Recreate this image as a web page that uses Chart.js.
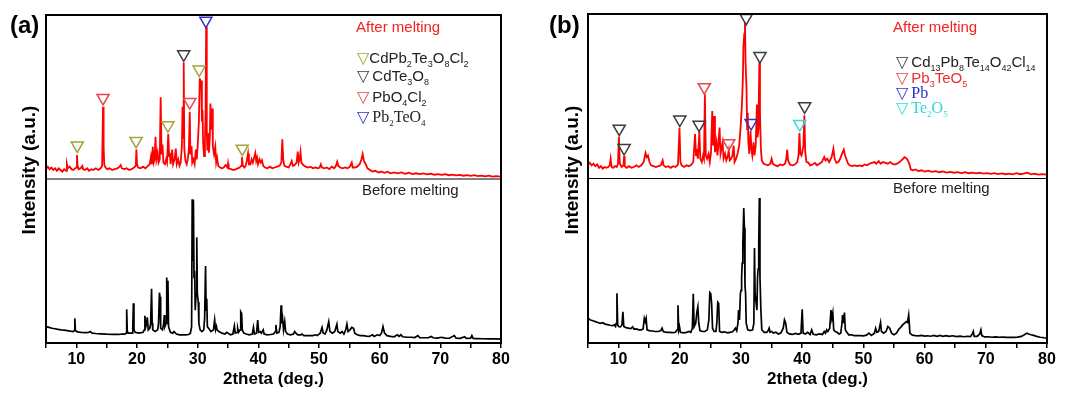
<!DOCTYPE html>
<html>
<head>
<meta charset="utf-8">
<script src="https://cdn.jsdelivr.net/npm/chart.js@4.4.1/dist/chart.umd.min.js"></script>
<style>
body { margin: 0; background: #fff; }
#wrap { position: relative; width: 1071px; height: 394px; overflow: hidden; font-family: "Liberation Sans", Arial, sans-serif; }
canvas { position: absolute; top: 0; }
.t { position: absolute; white-space: nowrap; font-size: 15px; line-height: 16px; color: #222; }
.t sub { font-size: 9px; vertical-align: -4px; line-height: 0; }
.tri { font-family: "DejaVu Sans"; font-size: 16px; margin-right: 3px; }
.serif { font-family: "Liberation Serif", serif; font-size: 16px; }
.panel { position: absolute; font-weight: bold; font-size: 24px; line-height: 26px; }
.ylab { position: absolute; width: 200px; height: 22px; line-height: 22px; text-align: center; font-weight: bold; font-size: 19px; transform: rotate(-90deg); white-space: nowrap; }
</style>
</head>
<body>
<div id="wrap">
  <canvas id="chartA" width="535" height="394" style="left:0"></canvas>
  <canvas id="chartB" width="536" height="394" style="left:535px"></canvas>

  <div class="panel" style="left:10px;top:12px">(a)</div>
  <div class="panel" style="left:549px;top:12px">(b)</div>
  <div class="ylab" style="left:-71px;top:159px">Intensity (a.u.)</div>
  <div class="ylab" style="left:472px;top:159px">Intensity (a.u.)</div>

  <div class="t" style="left:356px;top:19px;color:#f52020">After melting</div>
  <div class="t" style="left:357px;top:50px"><span class="tri" style="color:#a3a33a;margin-right:0">▽</span>CdPb<sub>2</sub>Te<sub>3</sub>O<sub>8</sub>Cl<sub>2</sub></div>
  <div class="t" style="left:357px;top:68px"><span class="tri" style="color:#3c3c3c">▽</span>CdTe<sub>3</sub>O<sub>8</sub></div>
  <div class="t" style="left:357px;top:89px"><span class="tri" style="color:#e8474c">▽</span>PbO<sub>4</sub>Cl<sub>2</sub></div>
  <div class="t" style="left:357px;top:109px"><span class="tri" style="color:#3333cc">▽</span><span class="serif">Pb<sub>2</sub>TeO<sub>4</sub></span></div>
  <div class="t" style="left:362px;top:182px">Before melting</div>

  <div class="t" style="left:893px;top:19px;color:#f52020">After melting</div>
  <div class="t" style="left:896px;top:54px"><span class="tri" style="color:#3c3c3c">▽</span>Cd<sub>13</sub>Pb<sub>8</sub>Te<sub>14</sub>O<sub>42</sub>Cl<sub>14</sub></div>
  <div class="t" style="left:896px;top:70px;color:#e83030"><span class="tri" style="color:#e8474c">▽</span>Pb<sub>3</sub>TeO<sub>5</sub></div>
  <div class="t" style="left:896px;top:85px;color:#2a2acc"><span class="tri" style="color:#3333cc">▽</span><span class="serif">Pb</span></div>
  <div class="t" style="left:896px;top:100px;color:#2fd6e0"><span class="tri" style="color:#33dddd">▽</span><span class="serif">Te<sub>2</sub>O<sub>5</sub></span></div>
  <div class="t" style="left:893px;top:180px">Before melting</div>
</div>

<script>
// ---- data: [2theta, intensity] ; intensity in a.u. (0-100 per pattern) ----
var afterA = [
 [5.0,6],[5.3,7.5],[5.6,6],[5.9,7],[6.2,5.5],[6.5,6.5],[6.8,5],[7.1,6.5],[7.4,5.5],[7.7,4.5],[8.0,6],[8.3,5],[8.45,9],[8.6,6.5],[8.9,7.5],
 [9.2,6],[9.5,5.5],[9.8,6.5],[10.0,7],[10.1,14.6],[10.2,8],[10.4,6],[10.7,6.5],[11.0,8],[11.1,6],[11.4,5.5],[11.8,6.5],[12.1,5],[12.5,6],
 [12.8,5.5],[13.2,6.5],[13.6,5.5],[14.0,6.5],[14.25,8],[14.4,44],[14.5,20],[14.6,9],[14.8,7],[15.1,6],[15.5,6.5],[15.9,5.5],[16.3,6],
 [16.7,6.5],[17.0,7],[17.3,8.5],[17.5,6.5],[17.9,6],[18.3,6.5],[18.7,5.5],[19.1,6],[19.5,7],[19.8,8],[19.9,18],[20.0,9],[20.2,7],[20.6,6.5],
 [21.0,7.5],[21.4,6.5],[21.8,8],[22.1,9],[22.3,13.5],[22.45,9],[22.6,19.6],[22.75,10],[22.9,12],[23.05,25.8],[23.2,12],[23.4,16],[23.55,10],
 [23.75,12],[23.9,49.8],[24.05,15],[24.2,21],[24.35,10],[24.6,9],[24.8,12],[24.95,10],[25.15,27.4],[25.3,14],[25.4,16],[25.55,9],[25.8,18],
 [25.95,9],[26.2,12],[26.4,18.5],[26.55,9],[26.8,12],[27.0,8],[27.2,10],[27.4,20],[27.5,44],[27.6,25],[27.7,71],[27.8,18],[28.0,11],[28.2,9],
 [28.4,13],[28.55,18],[28.7,41],[28.8,15],[29.0,20],[29.1,10],[29.3,12],[29.5,9],[29.7,18],[29.85,12],[30.0,20],[30.2,35],[30.35,61.4],
 [30.5,58],[30.6,60],[30.7,35],[30.8,42],[30.9,22],[31.05,14],[31.2,24],[31.3,40],[31.4,92.9],[31.5,30],[31.6,18],[31.7,28],[31.85,16],
 [32.0,25],[32.1,46],[32.25,30],[32.4,43],[32.5,20],[32.7,15],[32.9,19.6],[33.05,10],[33.2,13],[33.4,8],[33.7,7],[34.0,6.5],[34.3,7],
 [34.6,8.5],[34.9,7],[35.0,9.5],[35.1,6.5],[35.5,6],[35.9,5.5],[36.3,6],[36.6,6.5],[36.9,7],[37.15,8],[37.3,13.3],[37.45,8],[37.7,7],[37.9,8],
 [38.1,11],[38.3,15.4],[38.45,9],[38.7,9],[38.9,12],[39.1,10],[39.3,13],[39.5,15.8],[39.65,11],[39.8,13],[39.95,9],[40.2,12],[40.4,10],
 [40.6,11.5],[40.8,8],[41.1,7],[41.5,6.5],[41.9,7.5],[42.3,6.5],[42.7,7],[43.1,7.5],[43.5,8],[43.8,10],[43.95,24.2],[44.1,12],[44.3,8],
 [44.6,7.5],[45.0,7],[45.3,9],[45.5,11],[45.7,8],[46.0,8.5],[46.3,10],[46.5,16.7],[46.65,10],[46.8,12],[46.95,16.5],[47.1,10],[47.4,8.5],
 [47.8,7.5],[48.2,7],[48.6,7.5],[49.0,6.5],[49.4,7],[49.8,6.5],[50.1,7],[50.3,9],[50.5,7],[50.9,6.5],[51.3,7],[51.7,6],[52.1,7.5],[52.5,6.5],
 [52.8,8],[53.0,10.5],[53.2,8],[53.5,7],[53.9,6.5],[54.3,7],[54.7,6.5],[55.1,7.5],[55.4,10],[55.55,7],[55.9,7],[56.3,7.5],[56.7,9],[57.0,12],
 [57.2,15.2],[57.4,11],[57.7,9],[58.0,6.5],[58.4,5.5],[58.8,4.5],[59.3,5],[59.8,4],[60.3,4.5],[60.8,3.8],[61.3,4.5],[61.8,3.5],[62.4,4],
 [63.0,3.5],[63.6,4],[64.2,3.2],[64.8,3.8],[65.4,3],[66.0,3.5],[66.6,3],[67.2,3.4],[67.8,2.8],[68.4,3.2],[69.0,2.6],[69.6,3],[70.2,2.5],
 [70.8,2.9],[71.4,2.3],[72.0,2.7],[72.6,2.2],[73.2,2.5],[73.8,2],[74.4,2.4],[75.0,1.9],[75.6,2.3],[76.2,1.8],[76.8,2.1],[77.4,1.6],[78.0,2],
 [78.6,1.5],[79.2,1.8],[80.0,1.4]
];

var beforeA = [
 [5.0,10],[5.5,9.5],[6.0,9],[6.5,8.7],[7.0,8.3],[7.5,8],[8.0,7.8],[8.5,7.5],[9.0,7.2],[9.5,7],[9.65,7.5],[9.75,15],[9.85,7.5],[10.2,6.8],
 [10.8,6.5],[11.5,6.3],[12.0,6.4],[12.3,7],[12.6,6],[13.2,5.8],[14.0,5.6],[15.0,5.4],[16.0,5.3],[17.0,5.2],[17.5,5.5],[18.0,5.4],[18.2,6],
 [18.3,20.5],[18.4,7],[18.6,6],[19.2,6],[19.3,8],[19.4,24.2],[19.5,8],[19.7,6.5],[20.3,6],[21.0,6.5],[21.2,8],[21.3,16.6],[21.45,10],
 [21.6,12],[21.7,15.7],[21.85,8],[22.1,9],[22.25,12],[22.4,33],[22.5,12],[22.6,8],[23.0,7],[23.4,8],[23.55,12],[23.7,30.7],[23.8,28],
 [23.9,9],[24.2,8],[24.4,12],[24.5,17],[24.6,10],[24.8,12],[24.9,40],[25.0,25],[25.1,38],[25.2,10],[25.5,6.5],[25.9,6],[26.1,7],[26.5,5.5],
 [27.0,5],[27.5,5],[28.0,5],[28.5,5.2],[28.8,6],[29.0,10],[29.1,87.6],[29.2,50],[29.3,87],[29.4,40],[29.5,44],[29.6,20],[29.75,30],
 [29.85,64.4],[29.95,30],[30.1,25],[30.2,12],[30.4,8],[30.7,7],[31.0,8],[31.15,15],[31.3,47],[31.4,20],[31.5,27],[31.6,10],[31.8,9],
 [32.2,7],[32.6,8],[32.8,14],[32.95,8],[33.1,10],[33.2,8],[33.5,7],[34.0,6],[34.5,5.5],[34.8,6.5],[35.0,6],[35.4,5],[35.8,5.5],[36.05,10.4],
 [36.2,6],[36.5,6.5],[36.6,9],[36.75,6.5],[37.0,8],[37.1,19],[37.25,18],[37.35,8],[37.6,6],[38.0,5.5],[38.5,5],[39.0,5.5],[39.2,9.5],
 [39.35,5.5],[39.7,6],[39.9,14],[40.05,6.5],[40.3,7],[40.5,6],[40.8,8],[40.95,5.5],[41.5,5],[42.0,5.2],[42.5,5.5],[42.8,7],[42.9,11],
 [43.05,6],[43.4,6.5],[43.6,10],[43.75,23],[43.85,12],[44.0,15],[44.15,8],[44.35,13],[44.5,7],[44.8,5.5],[45.3,5],[45.8,5.5],[46.0,7],
 [46.2,6],[46.5,5],[47.0,5],[47.2,5.5],[47.5,4.5],[48.0,4.5],[48.5,4.5],[49.0,4.5],[49.4,5],[49.7,4.5],[50.2,6],[50.5,9.5],[50.7,6],
 [51.0,5.5],[51.3,8],[51.6,13],[51.8,7],[52.2,6],[52.6,7],[52.95,11.5],[53.1,7],[53.5,6],[53.8,7],[54.1,5.5],[54.4,8],[54.6,11.5],[54.8,7],
 [55.1,8],[55.4,9.5],[55.7,9],[55.9,6],[56.3,5],[56.8,4.5],[57.3,4.5],[57.8,4.2],[58.3,4],[58.8,5],[59.1,4],[59.6,5],[60.0,4.5],[60.3,6],
 [60.55,10],[60.8,6],[61.2,4.5],[61.8,4],[62.4,3.8],[62.9,5],[63.2,4],[63.5,5],[63.8,3.8],[64.5,3.5],[65.2,3.5],[65.8,3.3],[66.3,4.5],
 [66.6,3.3],[67.3,3.2],[68.0,3.2],[68.5,4],[68.8,3.2],[69.5,3],[70.2,3.5],[70.8,3],[71.5,2.9],[72.3,4.5],[72.6,2.9],[73.3,2.8],[74.0,3.8],
 [74.3,2.8],[75.0,3],[75.2,4.5],[75.4,2.8],[76.0,2.7],[77.0,2.6],[78.0,2.5],[79.0,2.5],[80.0,2.4]
];

var afterB = [
 [5.0,8.5],[5.3,9.5],[5.6,8],[5.9,9],[6.2,7.5],[6.5,8.5],[6.8,6.5],[7.1,7.5],[7.4,6],[7.7,7],[8.0,6.5],[8.3,7],[8.55,8],[8.7,12],[8.85,7],
 [9.1,6.5],[9.4,7.5],[9.7,7],[9.9,9],[10.05,25.4],[10.2,9],[10.5,7],[10.8,8],[10.9,13.6],[11.0,7.5],[11.3,6.5],[11.7,7.5],[12.1,6.5],
 [12.5,7],[12.9,8],[13.3,7],[13.7,8],[14.1,10],[14.4,15.5],[14.6,13],[14.8,14],[15.05,10],[15.3,8],[15.7,7.5],[16.1,7],[16.5,7.5],[16.9,8],
 [17.2,11],[17.35,8],[17.7,7],[18.1,7.5],[18.5,6.5],[18.9,7.5],[19.3,7],[19.7,8.5],[19.95,30.9],[20.1,10],[20.3,8],[20.7,7],[21.1,8],
 [21.5,7.5],[21.9,8.5],[22.2,10],[22.5,27],[22.65,14],[22.8,18],[22.95,12],[23.2,28.2],[23.35,12],[23.6,10],[23.8,14],[23.95,12],[24.1,51.2],
 [24.25,14],[24.45,12],[24.7,15],[24.9,10],[25.1,16],[25.3,41],[25.45,20],[25.6,38],[25.75,16],[26.0,22],[26.15,14],[26.3,20],[26.5,31],
 [26.65,15],[26.8,18],[27.0,22],[27.15,12],[27.4,15],[27.6,11],[27.8,13],[28.0,17],[28.15,11],[28.4,12],[28.6,14],[28.8,20],[28.95,10],
 [29.2,12],[29.5,16],[29.7,20],[29.95,32],[30.15,45],[30.3,60],[30.4,81],[30.55,88],[30.65,95],[30.75,70],[30.9,55],[31.0,30],[31.1,40],
 [31.2,22],[31.35,15],[31.55,28.8],[31.7,18],[31.85,14],[32.05,22],[32.2,14],[32.4,20],[32.6,45],[32.7,25],[32.85,30],[33.0,70.6],
 [33.1,40],[33.25,18],[33.4,11],[33.7,9],[34.0,8.5],[34.4,8],[34.8,9],[35.0,12],[35.2,9],[35.6,8],[36.0,7.5],[36.4,8.5],[36.8,8],[37.2,9],
 [37.4,12],[37.55,17.5],[37.7,11],[38.0,8.5],[38.4,8],[38.8,8.5],[39.2,10],[39.4,14],[39.55,27.7],[39.7,15],[39.9,14],[40.2,20],[40.35,38.4],
 [40.5,16],[40.7,10],[41.0,9.7],[41.3,8],[41.7,8.5],[42.1,9.5],[42.4,8],[42.8,9],[43.2,10],[43.6,13],[43.8,11],[44.1,12],[44.4,10],
 [44.8,13],[45.1,18.1],[45.3,12],[45.6,9.5],[45.9,10],[46.2,12],[46.5,15],[46.8,17.5],[47.0,14],[47.2,12],[47.5,9],[47.8,8],[48.2,7.5],
 [48.6,8],[49.0,7.5],[49.4,8],[49.8,7.5],[50.2,8.5],[50.6,8],[51.0,9],[51.4,9.5],[51.8,10],[52.1,9],[52.5,10.5],[52.8,9],[53.2,10],
 [53.6,9.5],[54.0,9],[54.4,10],[54.7,9],[55.1,8.5],[55.5,9],[55.9,10],[56.2,11],[56.5,12],[56.7,13],[56.95,12.5],[57.2,11.5],[57.5,9],
 [57.75,5.5],[58.1,5],[58.5,5.5],[59.0,4.5],[59.5,5],[60.0,4.2],[60.6,4.8],[61.2,4],[61.8,4.5],[62.4,3.8],[63.0,4.3],[63.6,3.6],[64.2,4],
 [64.8,3.5],[65.4,3.9],[66.0,3.3],[66.6,3.8],[67.2,3.2],[67.8,3.6],[68.4,3.1],[69.0,3.5],[69.6,3],[70.2,3.3],[70.8,2.8],[71.4,3.2],[72.0,2.7],
 [72.6,3.1],[73.2,2.6],[73.8,3],[74.4,2.5],[75.0,3.2],[75.6,2.6],[76.2,2.9],[76.8,3.5],[77.4,2.5],[78.0,2.9],[78.6,2.4],[79.2,2.7],[80.0,2.3]
];

var beforeB = [
 [5.0,15],[5.4,14],[5.8,13.5],[6.2,13],[6.6,12.5],[7.0,12],[7.4,12.3],[7.8,11.5],[8.2,11.2],[8.6,10.8],[9.0,10.5],[9.3,11],[9.5,10],
 [9.6,12],[9.73,30.3],[9.85,11],[10.0,10],[10.3,9.8],[10.55,11],[10.7,19],[10.85,10],[11.2,9.3],[11.6,9],[12.0,8.8],[12.3,9.8],[12.5,8.5],
 [12.9,8.6],[13.3,8],[13.7,8],[14.0,8.5],[14.2,15],[14.35,13],[14.5,15],[14.65,8],[15.0,7.5],[15.5,7.3],[16.0,7],[16.5,7],[16.9,7.5],
 [17.1,9],[17.3,7],[17.8,6.5],[18.3,6.5],[18.8,6.3],[19.3,6.5],[19.55,8],[19.7,23],[19.82,8],[19.95,10],[20.1,6.5],[20.6,6.2],[21.1,6.5],
 [21.5,7],[21.8,6.5],[22.05,9],[22.2,30],[22.35,10],[22.6,12],[22.8,19],[22.95,22],[23.1,12],[23.3,7.5],[23.7,7],[24.1,7],[24.5,8],
 [24.75,14],[24.9,30.7],[25.05,30],[25.2,24],[25.35,9],[25.6,7],[25.9,7],[26.05,12],[26.2,24.8],[26.35,24],[26.5,7],[26.9,6.5],[27.3,6.8],
 [27.8,6.2],[28.2,6.5],[28.6,6.8],[28.9,8],[29.1,9],[29.3,7.5],[29.5,12],[29.6,20],[29.75,14],[29.9,30],[30.0,32],[30.1,40],[30.2,48.6],
 [30.3,60],[30.45,82],[30.55,70],[30.65,35],[30.75,30],[30.85,12],[31.1,8],[31.5,7.5],[31.9,8],[32.1,12],[32.2,57.7],[32.3,30],[32.45,30],
 [32.6,20],[32.7,40],[32.8,45],[32.9,60],[33.0,88.2],[33.1,40],[33.25,20],[33.4,8],[33.8,6.5],[34.2,6.5],[34.45,7.5],[34.6,9],[34.75,6.5],
 [35.0,7],[35.3,6],[35.7,6.5],[36.1,5.5],[36.5,6],[36.9,9],[37.1,14],[37.3,12],[37.5,6.5],[37.9,5.5],[38.4,5.2],[38.9,5.8],[39.4,5.3],
 [39.8,6],[40.0,20.5],[40.15,6],[40.5,5.5],[40.9,6.5],[41.3,5.2],[41.55,8],[41.8,5.3],[42.3,5],[42.8,5.5],[43.3,5.2],[43.6,7],[43.8,6],
 [44.0,8],[44.2,7],[44.5,9],[44.7,20],[44.85,15],[45.0,18.3],[45.15,8],[45.4,7],[45.7,6.5],[46.0,5.5],[46.3,6],[46.5,12],[46.6,17],
 [46.75,12],[46.9,18.5],[47.05,8],[47.3,6.5],[47.6,5],[48.0,5],[48.5,4.5],[49.0,4.5],[49.5,4.5],[50.0,4.3],[50.5,4.8],[50.9,6],[51.3,4.6],
 [51.8,6],[52.0,9],[52.2,6.5],[52.5,7],[52.8,12.4],[52.95,7],[53.3,6],[53.7,7],[54.0,10],[54.3,9],[54.6,6],[55.0,5],[55.4,6],[55.8,8.5],
 [56.1,9.5],[56.4,11],[56.7,12],[57.0,13],[57.2,12.5],[57.4,17],[57.6,6],[58.0,4.8],[58.5,4.5],[59.0,4.3],[59.5,4.6],[60.0,4.2],[60.5,4.4],
 [61.0,4.1],[61.5,4.6],[62.0,4],[62.5,4.6],[63.0,4.1],[63.5,4.5],[64.0,4],[64.6,4.4],[65.2,3.9],[65.8,4.2],[66.4,3.8],[67.0,4.1],[67.5,3.9],
 [67.8,5.5],[67.95,7],[68.1,4],[68.6,4],[69.0,5.5],[69.2,8],[69.35,4.5],[69.8,3.7],[70.4,3.8],[71.0,3.5],[71.6,3.7],[72.2,3.5],[72.8,3.6],
 [73.4,3.4],[74.0,3.5],[74.6,3.4],[75.2,3.6],[75.8,4],[76.3,5],[76.7,6],[77.0,5.5],[77.4,5],[77.8,4.6],[78.3,4],[78.9,3.5],[79.5,3.2],[80.0,3]
];

// phase markers (2theta, height on the "after melting" pattern)
var markA_CdPb2Te3O8Cl2 = [[10.15,20.5],[19.85,23.2],[25.1,32.7],[30.25,66.7],[37.35,18.5]];
var markA_CdTe3O8 = [[27.7,76]];
var markA_PbO4Cl2 = [[14.4,49.4],[28.7,46.9]];
var markA_Pb2TeO4 = [[31.35,96.5]];

var markB_Cd13Pb8Te14O42Cl14 = [[10.1,30.3],[10.9,18.5],[20.0,35.8],[23.15,32.7],[30.85,97.6],[33.1,74.4],[40.4,43.9]];
var markB_Pb3TeO5 = [[24.0,55.5],[28.0,21.5]];
var markB_Pb = [[31.65,33.7]];
var markB_Te2O5 = [[39.6,33.1]];

var xTicks = [10, 20, 30, 40, 50, 60, 70, 80];

function pts(arr) {
    return arr.map(function (p) { return { x: p[0], y: p[1] }; });
}

function markSet(arr, color) {
    return {
        data: pts(arr),
        yAxisID: 'y2',
        showLine: false,
        pointStyle: 'triangle',
        pointRotation: 180,
        pointRadius: 7,
        pointBorderWidth: 1.5,
        pointBorderColor: color,
        pointBackgroundColor: 'rgba(0,0,0,0)',
        order: 0
    };
}

// frame around plot + line between the two patterns
var framePlugin = {
    id: 'frame',
    afterDatasetsDraw: function (chart) {
        var a = chart.chartArea, ctx = chart.ctx;
        var mid = chart.scales.y2.getPixelForValue(0);
        ctx.save();
        ctx.strokeStyle = '#000';
        ctx.lineWidth = 1;
        ctx.beginPath();
        ctx.moveTo(a.left, mid);
        ctx.lineTo(a.right, mid);
        ctx.stroke();
        ctx.lineWidth = 2;
        ctx.strokeRect(a.left, a.top, a.right - a.left, a.bottom - a.top);
        ctx.restore();
    }
};

function makePanel(id, after, before, marks, pad) {
    var sets = [
        { data: pts(after), yAxisID: 'y2', borderColor: '#ff0000', borderWidth: 1.8, pointRadius: 0, tension: 0, order: 1 },
        { data: pts(before), yAxisID: 'y', borderColor: '#000000', borderWidth: 1.7, pointRadius: 0, tension: 0, order: 1 }
    ];
    marks.forEach(function (m) { sets.push(markSet(m[0], m[1])); });

    return new Chart(document.getElementById(id).getContext('2d'), {
        type: 'line',
        data: { datasets: sets },
        options: {
            responsive: false,
            animation: false,
            layout: { padding: pad },
            plugins: { legend: { display: false }, tooltip: { enabled: false } },
            scales: {
                x: {
                    type: 'linear', min: 5, max: 80,
                    afterFit: function (s) { s.height = 51; },
                    grid: { drawOnChartArea: false, color: '#000', lineWidth: 1.5, tickLength: 5 },
                    border: { display: true, color: '#000', width: 2 },
                    ticks: {
                        stepSize: 5, autoSkip: false, maxRotation: 0, padding: 2, color: '#000',
                        font: { family: '"Liberation Sans", Arial, sans-serif', size: 16, weight: 'bold' },
                        callback: function (v) { return xTicks.indexOf(v) >= 0 ? String(v) : ''; }
                    },
                    title: {
                        display: true, text: '2theta (deg.)', color: '#000',
                        font: { family: '"Liberation Sans", Arial, sans-serif', size: 17, weight: 'bold' },
                        padding: { top: 0, bottom: 4 }
                    }
                },
                y: { display: false, min: 0, max: 200 },
                y2: { display: false, min: -100, max: 100 }
            }
        },
        plugins: [framePlugin]
    });
}

makePanel('chartA', afterA, beforeA, [
    [markA_CdPb2Te3O8Cl2, '#a3a33a'],
    [markA_CdTe3O8, '#3c3c3c'],
    [markA_PbO4Cl2, '#e8474c'],
    [markA_Pb2TeO4, '#3333cc']
], { left: 46, right: 34, top: 15, bottom: 0 });

makePanel('chartB', afterB, beforeB, [
    [markB_Cd13Pb8Te14O42Cl14, '#3c3c3c'],
    [markB_Pb3TeO5, '#e8474c'],
    [markB_Pb, '#3333cc'],
    [markB_Te2O5, '#33dddd']
], { left: 53, right: 24, top: 14, bottom: 0 });
</script>
</body>
</html>
